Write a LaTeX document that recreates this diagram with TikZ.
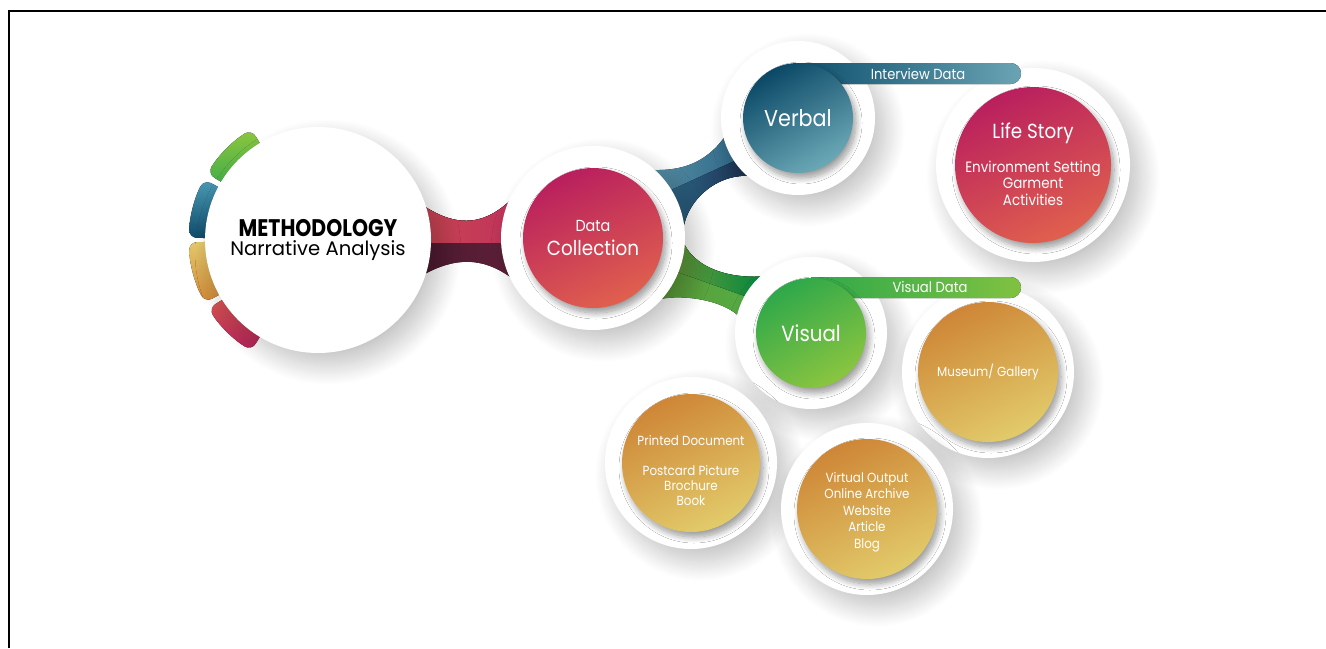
\documentclass[tikz,border=0pt]{standalone}
\usepackage{fontspec}
\setmainfont{Poppins}[FakeStretch=0.9]
\newfontfamily\titlefont{Poppins}[FakeStretch=0.85]
\newfontfamily\subtitlefont{Poppins}
\usetikzlibrary{calc,shadows.blur}
\pgfdeclarelayer{back}
\pgfsetlayers{back,main}

\definecolor{rose}{HTML}{B91F5E}
\definecolor{coral}{HTML}{E0604E}
\definecolor{navy}{HTML}{0B4866}
\definecolor{lightteal}{HTML}{6CA9B7}
\definecolor{grass}{HTML}{2EA84A}
\definecolor{lime}{HTML}{8BC540}
\definecolor{amber}{HTML}{CE8637}
\definecolor{sand}{HTML}{E2CB6A}
\definecolor{barTealA}{HTML}{0E4F6C}
\definecolor{barTealB}{HTML}{6AA4B4}
\definecolor{barGreenA}{HTML}{2EA84A}
\definecolor{barGreenB}{HTML}{80C241}
\definecolor{neckA}{HTML}{C94651}
\definecolor{neckB}{HTML}{C0325C}
\definecolor{neckC}{HTML}{4E1A30}
\definecolor{neckD}{HTML}{5E2039}
\definecolor{tealA}{HTML}{5B93A8}
\definecolor{tealB}{HTML}{2A6384}
\definecolor{tealC}{HTML}{2D6887}
\definecolor{tealD}{HTML}{1B2C4E}
\definecolor{oliveA}{HTML}{5E9B38}
\definecolor{oliveB}{HTML}{52AF47}
\definecolor{oliveC}{HTML}{689E3B}
\definecolor{oliveD}{HTML}{00853E}
\definecolor{tabgreenA}{HTML}{8DC63F}
\definecolor{tabgreenB}{HTML}{3AAA4A}
\definecolor{tabblueA}{HTML}{4A9AB5}
\definecolor{tabblueB}{HTML}{0E4A68}
\definecolor{tabgoldA}{HTML}{E3C86B}
\definecolor{tabgoldB}{HTML}{CF8837}
\definecolor{tabredA}{HTML}{E0604E}
\definecolor{tabredB}{HTML}{B6215E}

\begin{document}
\begin{tikzpicture}[x=0.5pt,y=0.5pt,
    ring/.style={circle,fill=white,inner sep=0pt,
      blur shadow={shadow xshift=5pt,shadow yshift=-6pt,shadow blur radius=10pt,
        shadow blur steps=30,shadow opacity=25}},
    disc/.style={circle,inner sep=0pt,text=white,align=center,
      blur shadow={shadow xshift=1.5pt,shadow yshift=-2.5pt,shadow blur radius=3pt,
        shadow blur steps=12,shadow opacity=40}},
    rosedisc/.style={disc,top color=rose,bottom color=coral,shading angle=25},
    tealdisc/.style={disc,top color=navy,bottom color=lightteal,shading angle=30},
    greendisc/.style={disc,top color=grass,bottom color=lime,shading angle=30},
    golddisc/.style={disc,top color=amber,bottom color=sand,shading angle=25},
    disctext/.style={text=white,align=center},
    tag/.style={text=white,font=\fontsize{7.3}{8}\selectfont}]
  \useasboundingbox (0,0) rectangle (1326,-648);
  \draw[line width=1.3pt] (9,-648) -- (9,-11) -- (1326,-11);

  \node[ring,minimum size=113pt,align=center,font=\fontsize{9.8}{9.5}\selectfont] (meth) at (318,-240)
    {{\titlefont\bfseries\fontsize{12}{12}\selectfont METHODOLOGY}\\{\subtitlefont Narrative Analysis}};
  \node[ring,minimum size=92pt] (dcoll-ring) at (593,-238) {};
  \node[ring,minimum size=77pt] (verbal-ring) at (798,-118) {};
  \node[ring,minimum size=76pt] (visual-ring) at (811,-333) {};
  \node[ring,minimum size=97pt] (life-ring) at (1033,-165) {};
  \node[ring,minimum size=86pt] (museum-ring) at (988,-372) {};
  \node[ring,minimum size=86pt] (printed-ring) at (691,-463) {};
  \node[ring,minimum size=86pt] (virtual-ring) at (867,-509) {};

  \fill[left color=barTealA,right color=barTealB] ($(verbal-ring)+(0,55)$) -- ++(212.5,0)
    arc[start angle=90,end angle=-90,radius=10.5] -- ++(-212.5,0) -- cycle;
  \fill[left color=barGreenA,right color=barGreenB] ($(visual-ring)+(0,56)$) -- ++(199.5,0)
    arc[start angle=90,end angle=-90,radius=10.5] -- ++(-199.5,0) -- cycle;
  \node[tag] (interview-lbl) at (918,-74) {Interview Data};
  \node[tag] (visualdata-lbl) at (930,-287) {Visual Data};

  \node[rosedisc,minimum size=70pt,font=\fontsize{10.2}{12}\selectfont] (dcoll) at (dcoll-ring)
    {{\fontsize{8}{9}\selectfont Data}\\Collection};
  \node[tealdisc,minimum size=55pt,font=\fontsize{11.5}{12}\selectfont] (verbal) at (verbal-ring) {Verbal};
  \node[greendisc,minimum size=55pt,font=\fontsize{11}{12}\selectfont] (visual) at (visual-ring) {Visual};
  \node[rosedisc,minimum size=78pt] (life) at (life-ring) {};
  \node[disctext,font=\fontsize{7.5}{8.2}\selectfont] (life-text) at ([yshift=0.5pt]life.center)
    {{\fontsize{10.2}{10}\selectfont Life Story}\\[7.6pt]Environment Setting\\Garment\\Activities};
  \node[golddisc,minimum size=70pt,font=\fontsize{6.6}{8}\selectfont] (museum) at (museum-ring) {Museum/ Gallery};
  \node[golddisc,minimum size=69pt] (printed) at (printed-ring) {};
  \node[disctext,font=\fontsize{6.6}{7.5}\selectfont] (printed-text) at ([yshift=-4pt]printed.center)
    {Printed Document\\[7.5pt]Postcard Picture\\Brochure\\Book};
  \node[golddisc,minimum size=70pt] (virtual) at (virtual-ring) {};
  \node[disctext,font=\fontsize{6.6}{8.25}\selectfont] (virtual-text) at ([yshift=-1.5pt]virtual.center)
    {Virtual Output\\Online Archive\\Website\\Article\\Blog};

  \begin{pgfonlayer}{back}
    \foreach \a/\b/\ca/\cb in {121/149/tabgreenA/tabgreenB,152/179/tabblueA/tabblueB,
        181/209/tabgoldA/tabgoldB,212/239/tabredA/tabredB}
      \fill[top color=\ca,bottom color=\cb,rounded corners=4pt] ($(meth)+(\a:95)$)
        arc[start angle=\a,end angle=\b,radius=95] -- ($(meth)+(\b:129)$)
        arc[start angle=\b,end angle=\a,radius=129] -- cycle;

    \fill[left color=neckC,right color=neckD] ($(meth)+(20:108)$) .. controls (455,-228) and (485,-228)
      .. ($(dcoll-ring)+(150:88)$) -- ($(dcoll-ring)+(210:88)$) .. controls (485,-256) and (455,-256)
      .. ($(meth)+(-20:108)$) -- cycle;
    \fill[left color=neckA,right color=neckB] ($(meth)+(20:108)$) .. controls (455,-228) and (485,-228)
      .. ($(dcoll-ring)+(150:88)$) -- (517,-243) -- (420,-243) -- cycle;

    \fill[left color=tealA,right color=tealB] ($(dcoll-ring)+(55:84)$) .. controls (670,-172) and (705,-170)
      .. ($(verbal-ring)+(190:70)$) -- ($(verbal-ring)+(232:74)$) .. controls (722,-172) and (687,-196)
      .. ($(dcoll-ring)+(4:90)$) -- cycle;
    \fill[left color=tealC,right color=tealD] ($(dcoll-ring)+(32:86)$) -- ($(verbal-ring)+(215:70)$)
      -- ($(verbal-ring)+(232:74)$) .. controls (722,-172) and (687,-196)
      .. ($(dcoll-ring)+(4:90)$) -- cycle;

    \fill[left color=oliveA,right color=oliveB] ($(dcoll-ring)+(2:88)$) .. controls (687,-262) and (720,-280)
      .. ($(visual-ring)+(128:72)$) -- ($(visual-ring)+(168:72)$) .. controls (725,-300) and (680,-293)
      .. ($(dcoll-ring)+(-45:88)$) -- cycle;
    \fill[left color=oliveC,right color=oliveD] ($(dcoll-ring)+(2:88)$) .. controls (687,-262) and (720,-280)
      .. ($(visual-ring)+(128:72)$) -- ($(visual-ring)+(150:70)$) -- ($(dcoll-ring)+(-22:88)$) -- cycle;
  \end{pgfonlayer}
\end{tikzpicture}
\end{document}
